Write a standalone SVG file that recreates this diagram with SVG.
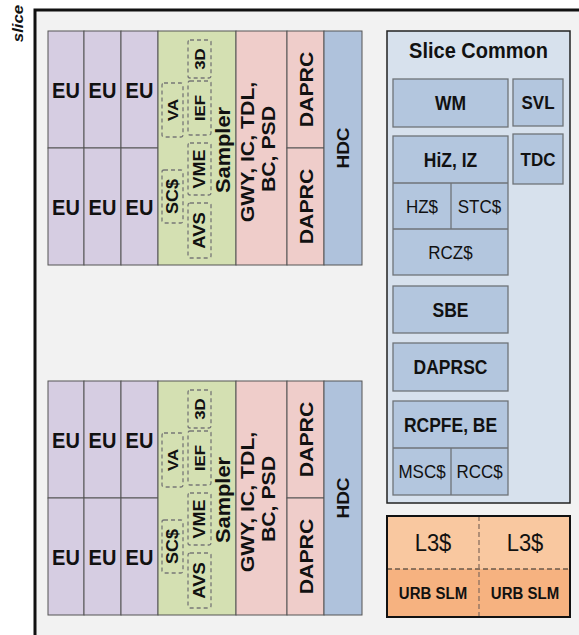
<svg xmlns="http://www.w3.org/2000/svg" width="579" height="635" viewBox="0 0 579 635">
<style>
text{font-family:"Liberation Sans",Arial,sans-serif;fill:#111}
.b{font-weight:bold}
.cell{stroke:#555;stroke-width:1}
.eu{fill:#d6cde2}
.smp{fill:#d4e0b2}
.pk{fill:#efcdca}
.hdc{fill:#afc2dc}
.dash{fill:none;stroke:#777;stroke-width:1.3;stroke-dasharray:4,3}
.ib{fill:#b3c6de;stroke:#6f7378;stroke-width:1.3}
.eut{font-size:20px;font-weight:bold;text-anchor:middle}
.rt{text-anchor:middle;font-weight:bold}
.ct{text-anchor:middle}
</style>
<rect x="0" y="0" width="579" height="635" fill="#ffffff"/>
<rect x="35" y="10" width="600" height="700" fill="#f2f2f2" stroke="#111" stroke-width="3"/>
<text class="b" font-style="italic" font-size="15" text-anchor="middle" transform="translate(23,23.5) scale(1,1.12) rotate(-90)">slice</text>

<defs>
<g id="blk">
  <rect class="cell eu" x="48" y="31" width="36" height="117"/>
  <rect class="cell eu" x="84" y="31" width="37" height="117"/>
  <rect class="cell eu" x="121" y="31" width="37" height="117"/>
  <rect class="cell eu" x="48" y="148" width="36" height="117"/>
  <rect class="cell eu" x="84" y="148" width="37" height="117"/>
  <rect class="cell eu" x="121" y="148" width="37" height="117"/>
  <text class="eut" transform="translate(66,97.5) scale(1,1.12)">EU</text>
  <text class="eut" transform="translate(102.5,97.5) scale(1,1.12)">EU</text>
  <text class="eut" transform="translate(139.5,97.5) scale(1,1.12)">EU</text>
  <text class="eut" transform="translate(66,214.5) scale(1,1.12)">EU</text>
  <text class="eut" transform="translate(102.5,214.5) scale(1,1.12)">EU</text>
  <text class="eut" transform="translate(139.5,214.5) scale(1,1.12)">EU</text>
  <rect class="cell smp" x="158" y="31" width="78" height="234"/>
  <rect class="dash" x="162" y="83" width="21" height="54" rx="2"/>
  <rect class="dash" x="188" y="40" width="23" height="38" rx="2"/>
  <rect class="dash" x="188" y="81" width="23" height="54" rx="2"/>
  <rect class="dash" x="162" y="170" width="21" height="53" rx="2"/>
  <rect class="dash" x="188" y="143" width="23" height="52" rx="2"/>
  <rect class="dash" x="188" y="203" width="23" height="55" rx="2"/>
  <text class="rt" font-size="15" transform="translate(172.5,110) scale(1,1.12) rotate(-90)" y="5.4">VA</text>
  <text class="rt" font-size="15" transform="translate(199.5,59) scale(1,1.12) rotate(-90)" y="5.4">3D</text>
  <text class="rt" font-size="15" transform="translate(199.5,108) scale(1,1.12) rotate(-90)" y="5.4">IEF</text>
  <text class="rt" font-size="16" transform="translate(172.5,196.5) scale(1,1.12) rotate(-90)" y="5.8">SC$</text>
  <text class="rt" font-size="16" transform="translate(199.5,169) scale(1,1.12) rotate(-90)" y="5.8">VME</text>
  <text class="rt" font-size="16.5" transform="translate(199.5,230.5) scale(1,1.12) rotate(-90)" y="5.9">AVS</text>
  <text class="rt" font-size="19.5" transform="translate(223,150) scale(1,1.12) rotate(-90)" y="7">Sampler</text>
  <rect class="cell pk" x="236" y="31" width="51" height="234"/>
  <text class="rt" font-size="19" transform="translate(247,152) scale(1,1.12) rotate(-90)" y="6.8">GWY, IC, TDL,</text>
  <text class="rt" font-size="19" transform="translate(268,149) scale(1,1.12) rotate(-90)" y="6.8">BC, PSD</text>
  <rect class="cell pk" x="287" y="31" width="37" height="117"/>
  <rect class="cell pk" x="287" y="148" width="37" height="117"/>
  <text class="rt" font-size="19" transform="translate(306,89.5) scale(1,1.12) rotate(-90)" y="6.8">DAPRC</text>
  <text class="rt" font-size="19" transform="translate(306,206.5) scale(1,1.12) rotate(-90)" y="6.8">DAPRC</text>
  <rect class="cell hdc" x="324" y="31" width="38" height="234"/>
  <text class="rt" font-size="17" transform="translate(343,148) scale(1,1.12) rotate(-90)" y="6.1">HDC</text>
</g>
</defs>

<g id="subslice-top"><use href="#blk"/></g>
<g id="subslice-bottom"><use href="#blk" transform="translate(0,350)"/></g>

<g id="slice-common">
  <rect x="387" y="31" width="183" height="472" fill="#d7e1ed" stroke="#222" stroke-width="1.5"/>
  <text class="b ct" font-size="20" transform="translate(478.5,58) scale(1,1.12)">Slice Common</text>
</g>
<g id="wm"><rect class="ib" x="393" y="79" width="115" height="48"/><text class="b ct" font-size="17.5" transform="translate(450.5,110) scale(1,1.12)">WM</text></g>
<g id="svl"><rect class="ib" x="513" y="79" width="50" height="47"/><text class="b ct" font-size="17" transform="translate(538,109.3) scale(1,1.12)">SVL</text></g>
<g id="tdc"><rect class="ib" x="513" y="134" width="50" height="50"/><text class="b ct" font-size="17" transform="translate(538,165.8) scale(1,1.12)">TDC</text></g>
<g id="hiz">
  <rect class="ib" x="393" y="136" width="115" height="139"/>
  <line x1="393" y1="183" x2="508" y2="183" stroke="#6f7378" stroke-width="1.3"/>
  <line x1="393" y1="229" x2="508" y2="229" stroke="#6f7378" stroke-width="1.3"/>
  <line x1="451" y1="183" x2="451" y2="229" stroke="#6f7378" stroke-width="1.3"/>
  <text class="b ct" font-size="17.5" transform="translate(450.5,166.5) scale(1,1.12)">HiZ, IZ</text>
  <text class="ct" font-size="17" transform="translate(422,212.8) scale(1,1.12)">HZ$</text>
  <text class="ct" font-size="17" transform="translate(479.5,212.8) scale(1,1.12)">STC$</text>
  <text class="ct" font-size="17" transform="translate(450.5,258.8) scale(1,1.12)">RCZ$</text>
</g>
<g id="sbe"><rect class="ib" x="393" y="286" width="115" height="47"/><text class="b ct" font-size="17.5" transform="translate(450.5,316.5) scale(1,1.12)">SBE</text></g>
<g id="daprsc"><rect class="ib" x="393" y="343" width="115" height="48"/><text class="b ct" font-size="17.5" transform="translate(450.5,374) scale(1,1.12)">DAPRSC</text></g>
<g id="rcpfe">
  <rect class="ib" x="393" y="401" width="115" height="94"/>
  <line x1="393" y1="448" x2="508" y2="448" stroke="#6f7378" stroke-width="1.3"/>
  <line x1="451" y1="448" x2="451" y2="495" stroke="#6f7378" stroke-width="1.3"/>
  <text class="b ct" font-size="17.5" transform="translate(450.5,431.5) scale(1,1.12)">RCPFE, BE</text>
  <text class="ct" font-size="17" transform="translate(422,478.3) scale(1,1.12)">MSC$</text>
  <text class="ct" font-size="17" transform="translate(479.5,478.3) scale(1,1.12)">RCC$</text>
</g>
<g id="l3">
  <rect x="387" y="516" width="183" height="53" fill="#f9c8a0"/>
  <rect x="387" y="569" width="183" height="48" fill="#f6b280"/>
  <line x1="387" y1="569" x2="570" y2="569" stroke="#6b5a4a" stroke-width="1.3" stroke-dasharray="5,3"/>
  <line x1="479" y1="516" x2="479" y2="617" stroke="#8a7060" stroke-width="1.3" stroke-dasharray="5,3"/>
  <rect x="387" y="516" width="183" height="101" fill="none" stroke="#111" stroke-width="2"/>
  <text class="ct" font-size="22" transform="translate(433,550.5) scale(1,1.12)">L3$</text>
  <text class="ct" font-size="22" transform="translate(525,550.5) scale(1,1.12)">L3$</text>
  <text class="b ct" font-size="15" transform="translate(433,599) scale(1,1.12)">URB SLM</text>
  <text class="b ct" font-size="15" transform="translate(525,599) scale(1,1.12)">URB SLM</text>
</g>
<g id="connectors"></g>
</svg>
